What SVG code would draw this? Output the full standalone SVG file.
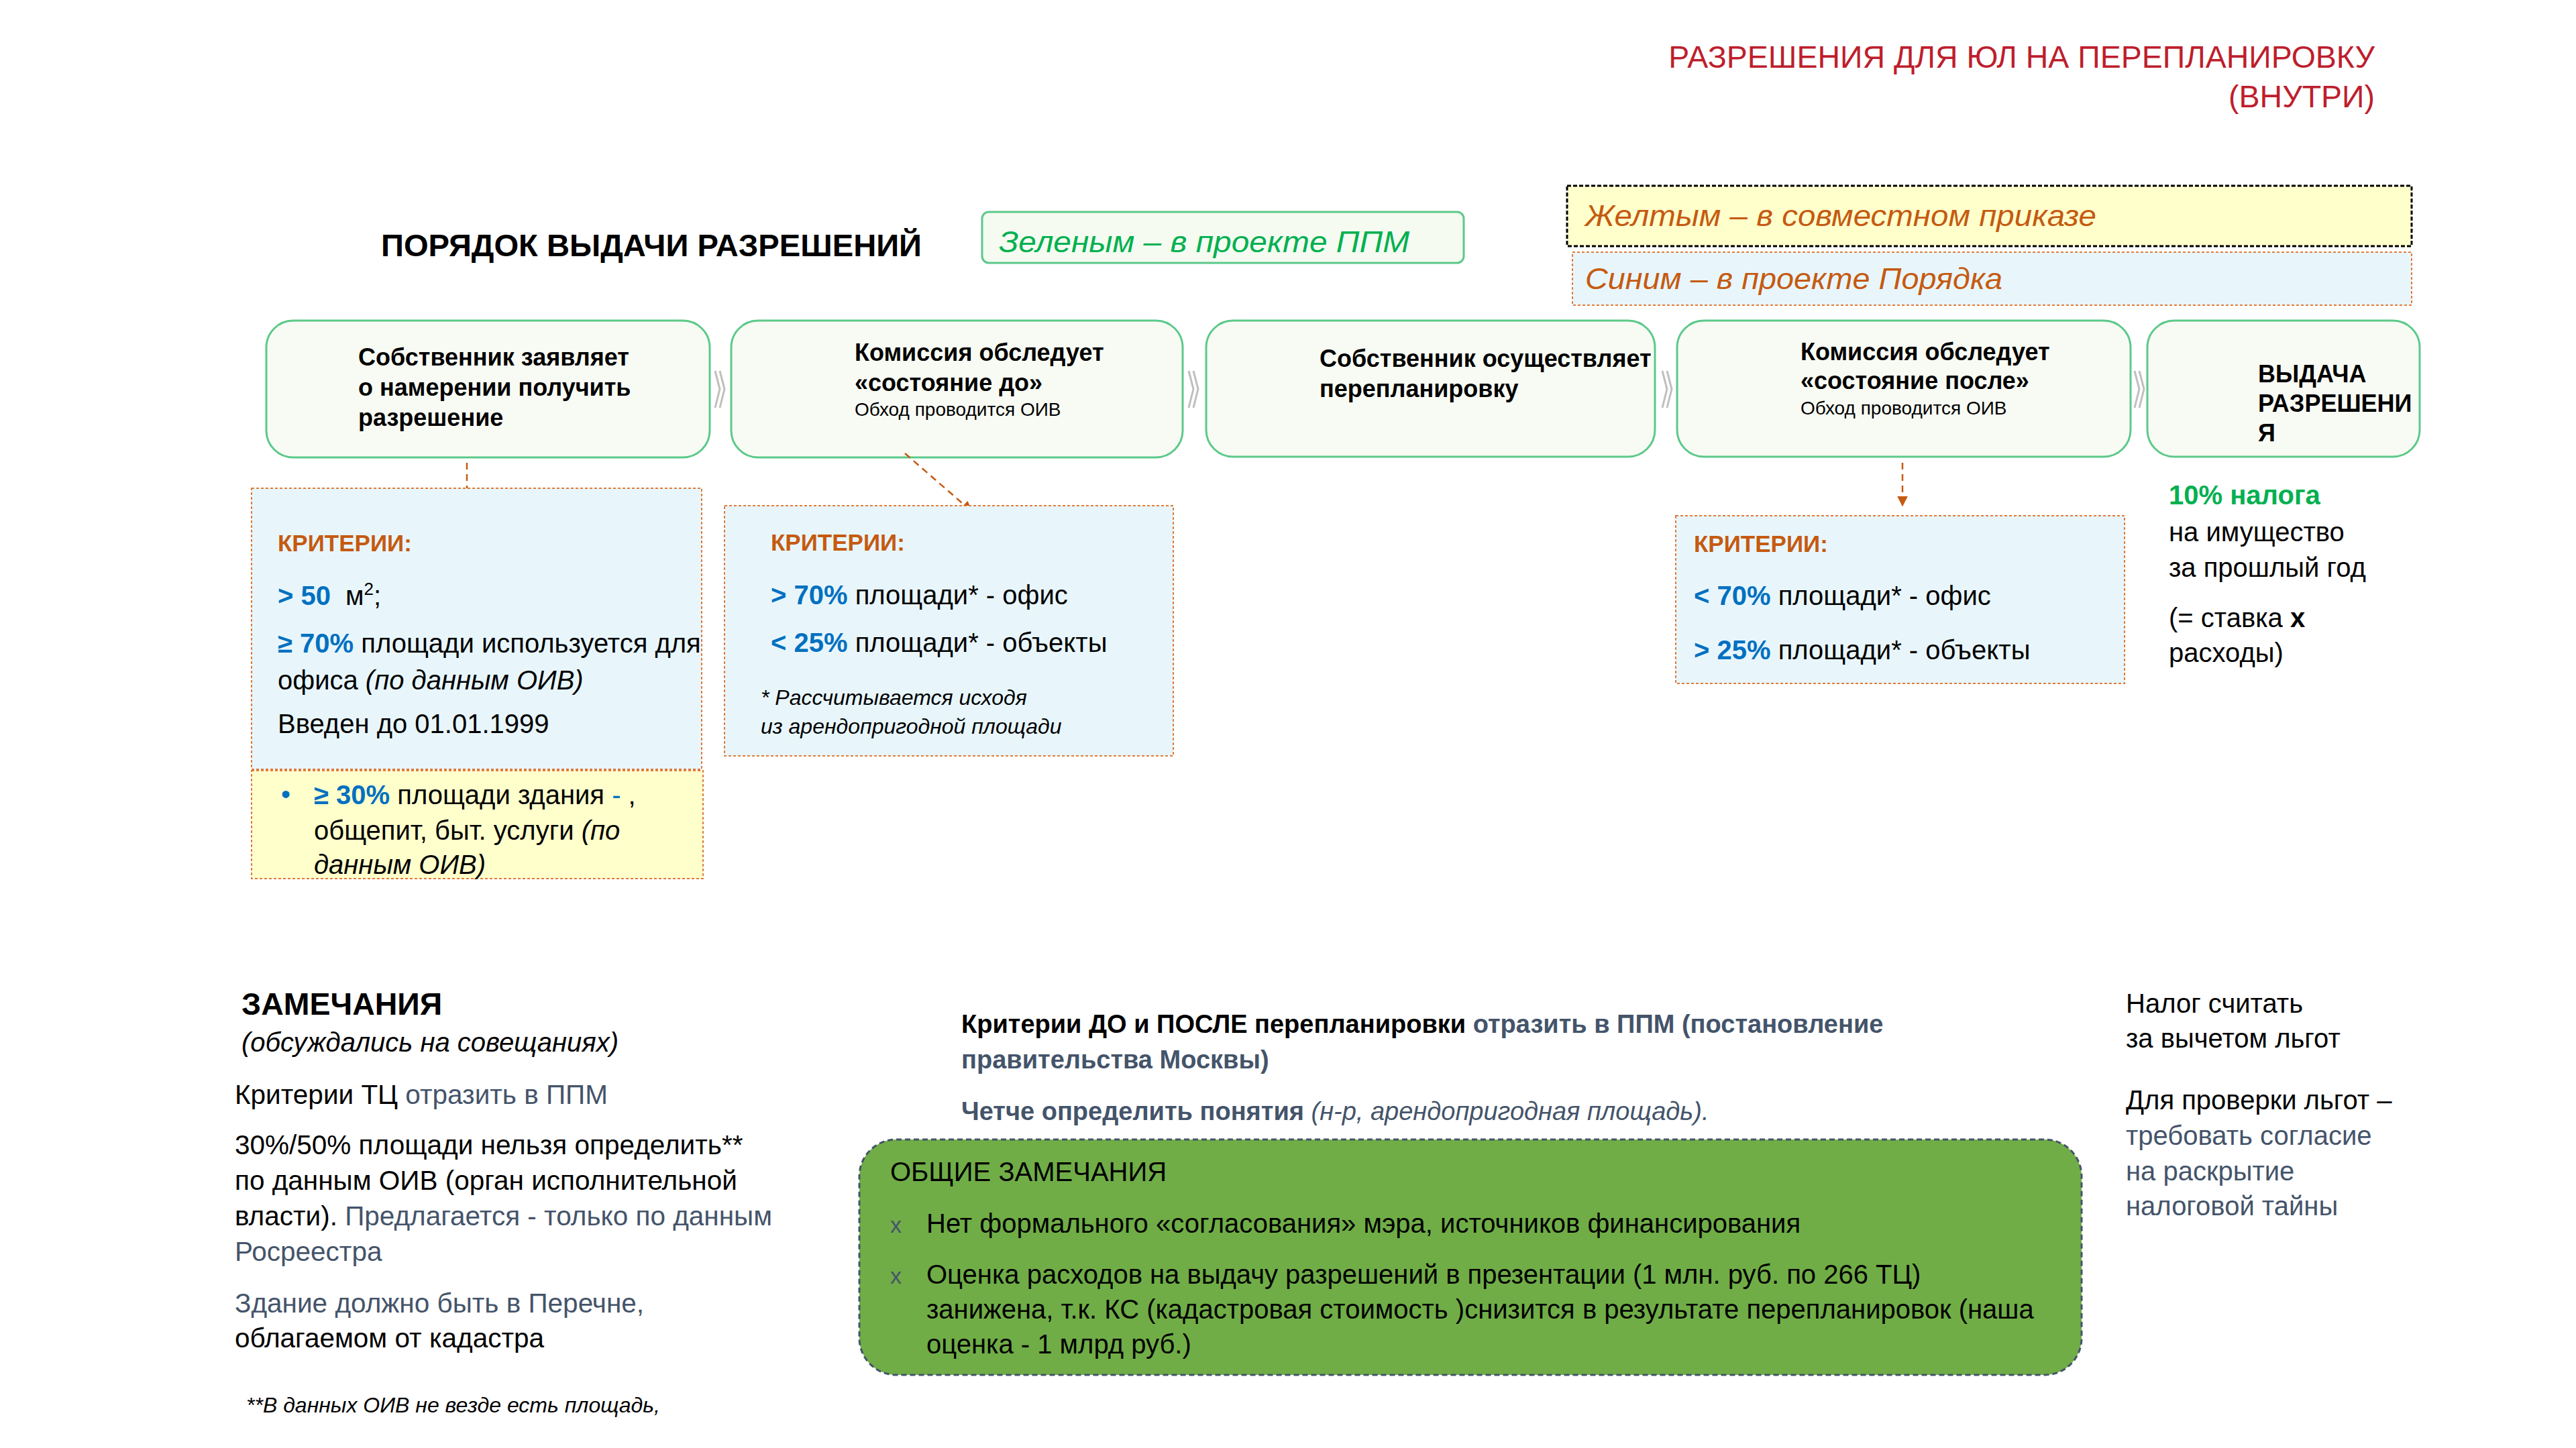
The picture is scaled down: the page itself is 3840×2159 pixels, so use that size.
<svg xmlns="http://www.w3.org/2000/svg" width="3840" height="2159" viewBox="0 0 3840 2159">
<defs>
<marker id="ah" viewBox="0 0 10 10" refX="9" refY="5" markerWidth="16" markerHeight="16" markerUnits="userSpaceOnUse" orient="auto">
<path d="M0,0 L10,5 L0,10 z" fill="#C55A11"/>
</marker>
</defs>
<style>
text{font-family:"Liberation Sans",Arial,sans-serif;fill:#000}
.b{font-weight:bold}
.i{font-style:italic}
.node{fill:#F8FBF4;stroke:#5CC98A;stroke-width:3}
.crit{fill:#E8F6FC;stroke:#E07B39;stroke-width:2;stroke-dasharray:4 3}
.yel{fill:#FFFFCC;stroke:#E07B39;stroke-width:2;stroke-dasharray:4 3}
.nt{font-size:36px;font-weight:bold}
.ns{font-size:28px}
.body{font-size:40px}
.rm{font-size:40.5px}
.or{fill:#C55A11}
.bl{fill:#0070C0}
.gr{fill:#00B050}
.sl{fill:#44546A}
.chev{fill:none;stroke:#BFBFBF;stroke-width:3}
.conn{fill:none;stroke:#C55A11;stroke-width:2.5;stroke-dasharray:10 7}
</style>
<rect width="3840" height="2159" fill="#FFFFFF"/>

<g id="title">
<text x="3540" y="101" font-size="46.5" text-anchor="end" style="fill:#BE1E2D">РАЗРЕШЕНИЯ ДЛЯ ЮЛ НА ПЕРЕПЛАНИРОВКУ</text>
<text x="3540" y="160" font-size="46.5" text-anchor="end" style="fill:#BE1E2D">(ВНУТРИ)</text>
</g>

<g id="heading">
<text x="568" y="382" font-size="46" class="b" textLength="806" lengthAdjust="spacingAndGlyphs">ПОРЯДОК ВЫДАЧИ РАЗРЕШЕНИЙ</text>
</g>

<g id="legend-green">
<rect x="1464" y="316" width="718" height="76" rx="10" fill="#F5FBF1" stroke="#5CC98A" stroke-width="3"/>
<text x="1489" y="376" font-size="45" class="i gr" textLength="612" lengthAdjust="spacingAndGlyphs">Зеленым  – в проекте ППМ</text>
</g>
<g id="legend-yellow">
<rect x="2336" y="277" width="1259" height="90" fill="#FFFFCC" stroke="#000" stroke-width="3" stroke-dasharray="6 3"/>
<text x="2363" y="337" font-size="45" class="i or" textLength="762" lengthAdjust="spacingAndGlyphs">Желтым – в совместном приказе</text>
</g>
<g id="legend-blue">
<rect x="2344" y="376" width="1251" height="79" class="crit"/>
<text x="2363" y="431" font-size="45" class="i or" textLength="622" lengthAdjust="spacingAndGlyphs">Синим – в проекте Порядка</text>
</g>

<g id="node1">
<rect x="397" y="478" width="661" height="204" rx="40" class="node"/>
<text class="nt" x="534" y="545">Собственник заявляет</text>
<text class="nt" x="534" y="590">о намерении получить</text>
<text class="nt" x="534" y="635">разрешение</text>
</g>
<g id="node2">
<rect x="1090" y="478" width="673" height="204" rx="40" class="node"/>
<text class="nt" x="1274" y="538">Комиссия обследует</text>
<text class="nt" x="1274" y="583">«состояние до»</text>
<text class="ns" x="1274" y="620">Обход проводится ОИВ</text>
</g>
<g id="node3">
<rect x="1798" y="478" width="669" height="203" rx="40" class="node"/>
<text class="nt" x="1967" y="547">Собственник осуществляет</text>
<text class="nt" x="1967" y="592">перепланировку</text>
</g>
<g id="node4">
<rect x="2500" y="478" width="676" height="203" rx="40" class="node"/>
<text class="nt" x="2684" y="537">Комиссия обследует</text>
<text class="nt" x="2684" y="580">«состояние после»</text>
<text class="ns" x="2684" y="618">Обход проводится ОИВ</text>
</g>
<g id="node5">
<rect x="3201" y="478" width="406" height="203" rx="40" class="node"/>
<text class="nt" x="3366" y="570">ВЫДАЧА</text>
<text class="nt" x="3366" y="614">РАЗРЕШЕНИ</text>
<text class="nt" x="3366" y="658">Я</text>
</g>

<g id="connectors">
<path class="chev" d="M1066,553 L1073,580 L1066,608 M1073,553 L1080,580 L1073,608"/>
<path class="chev" d="M1772,553 L1779,580 L1772,608 M1779,553 L1786,580 L1779,608"/>
<path class="chev" d="M2478,553 L2485,580 L2478,608 M2485,553 L2492,580 L2485,608"/>
<path class="chev" d="M3182,553 L3189,580 L3182,608 M3189,553 L3196,580 L3189,608"/>
<line class="conn" x1="696" y1="690" x2="696" y2="750" marker-end="url(#ah)"/>
<line class="conn" x1="1349" y1="676" x2="1448" y2="762" marker-end="url(#ah)"/>
<line class="conn" x1="2836" y1="690" x2="2836" y2="754" marker-end="url(#ah)"/>
</g>

<g id="criteria-before">
<rect x="375" y="728" width="671" height="419" class="crit"/>
<text x="414" y="822" font-size="35" class="b or">КРИТЕРИИ:</text>
<text x="414" y="902" class="body"><tspan class="b bl">&gt; 50</tspan><tspan dx="22">м</tspan><tspan font-size="26" baseline-shift="super">2</tspan><tspan>;</tspan></text>
<text x="414" y="973" class="body"><tspan class="b bl">≥ 70%</tspan><tspan> площади используется для</tspan></text>
<text x="414" y="1028" class="body"><tspan>офиса </tspan><tspan class="i">(по данным ОИВ)</tspan></text>
<text x="414" y="1093" class="body">Введен до 01.01.1999</text>
</g>
<g id="criteria-yellow">
<rect x="375" y="1149" width="673" height="161" class="yel"/>
<text x="419" y="1198" class="body bl">•</text>
<text x="468" y="1199" class="body"><tspan class="b bl">≥ 30%</tspan><tspan> площади здания </tspan><tspan class="bl">-</tspan><tspan> ,</tspan></text>
<text x="468" y="1252" class="body"><tspan>общепит, быт. услуги </tspan><tspan class="i">(по</tspan></text>
<text x="468" y="1303" class="body i">данным ОИВ)</text>
</g>

<g id="criteria-mid">
<rect x="1080" y="754" width="669" height="373" class="crit"/>
<text x="1149" y="821" font-size="35" class="b or">КРИТЕРИИ:</text>
<text x="1149" y="901" class="body"><tspan class="b bl">&gt; 70%</tspan><tspan> площади* - офис</tspan></text>
<text x="1149" y="972" class="body"><tspan class="b bl">&lt; 25%</tspan><tspan> площади* - объекты</tspan></text>
<text x="1134" y="1051" font-size="32" class="i">* Рассчитывается исходя</text>
<text x="1134" y="1094" font-size="32" class="i">из арендопригодной площади</text>
</g>

<g id="criteria-after">
<rect x="2498" y="769" width="669" height="250" class="crit"/>
<text x="2525" y="823" font-size="35" class="b or">КРИТЕРИИ:</text>
<text x="2525" y="902" class="body"><tspan class="b bl">&lt; 70%</tspan><tspan> площади* - офис</tspan></text>
<text x="2525" y="983" class="body"><tspan class="b bl">&gt; 25%</tspan><tspan> площади* - объекты</tspan></text>
</g>

<g id="tax">
<text x="3233" y="752" class="body b gr">10% налога</text>
<text x="3233" y="807" class="body">на имущество</text>
<text x="3233" y="860" class="body">за прошлый год</text>
<text x="3233" y="935" class="body"><tspan>(= ставка </tspan><tspan class="b">x</tspan></text>
<text x="3233" y="987" class="body">расходы)</text>
</g>

<g id="remarks">
<text x="360" y="1513" font-size="46.5" class="b">ЗАМЕЧАНИЯ</text>
<text x="360" y="1568" class="body i"> (обсуждались на совещаниях)</text>
<text x="350" y="1646" class="rm"><tspan>Критерии ТЦ </tspan><tspan class="sl">отразить в ППМ</tspan></text>
<text x="350" y="1721" class="rm">30%/50% площади нельзя определить**</text>
<text x="350" y="1774" class="rm">по данным ОИВ (орган исполнительной</text>
<text x="350" y="1827" class="rm"><tspan>власти). </tspan><tspan class="sl">Предлагается - только по данным</tspan></text>
<text x="350" y="1880" class="rm sl">Росреестра</text>
<text x="350" y="1957" class="rm sl">Здание должно быть в Перечне,</text>
<text x="350" y="2009" class="rm">облагаемом от кадастра</text>
<text x="367" y="2106" font-size="32" class="i">**В данных ОИВ не везде есть площадь,</text>
</g>

<g id="center-remarks">
<text x="1433" y="1540" font-size="38" class="b"><tspan>Критерии ДО и ПОСЛЕ перепланировки </tspan><tspan class="sl">отразить в ППМ (постановление</tspan></text>
<text x="1433" y="1593" font-size="38" class="b sl">правительства Москвы)</text>
<text x="1433" y="1670" font-size="38" class="sl"><tspan class="b">Четче определить понятия </tspan><tspan class="i">(н-р, арендопригодная площадь).</tspan></text>
</g>

<g id="general-remarks">
<rect x="1281" y="1699" width="1822" height="351" rx="55" fill="#70AD47" stroke="#44546A" stroke-width="3" stroke-dasharray="8 5"/>
<text x="1327" y="1761" class="body">ОБЩИЕ ЗАМЕЧАНИЯ</text>
<text x="1327" y="1838" font-size="34" class="sl">x</text>
<text x="1381" y="1838" class="body">Нет формального «согласования» мэра, источников финансирования</text>
<text x="1327" y="1914" font-size="34" class="sl">x</text>
<text x="1381" y="1914" class="body">Оценка расходов на выдачу разрешений в презентации (1 млн. руб. по 266 ТЦ)</text>
<text x="1381" y="1966" class="body">занижена, т.к. КС (кадастровая стоимость )снизится в результате перепланировок (наша</text>
<text x="1381" y="2018" class="body">оценка - 1 млрд руб.)</text>
</g>

<g id="tax-notes">
<text x="3169" y="1510" class="body">Налог считать</text>
<text x="3169" y="1562" class="body">за вычетом льгот</text>
<text x="3169" y="1654" class="body">Для проверки льгот –</text>
<text x="3169" y="1707" class="body sl">требовать согласие</text>
<text x="3169" y="1760" class="body sl">на раскрытие</text>
<text x="3169" y="1812" class="body sl">налоговой тайны</text>
</g>
</svg>
